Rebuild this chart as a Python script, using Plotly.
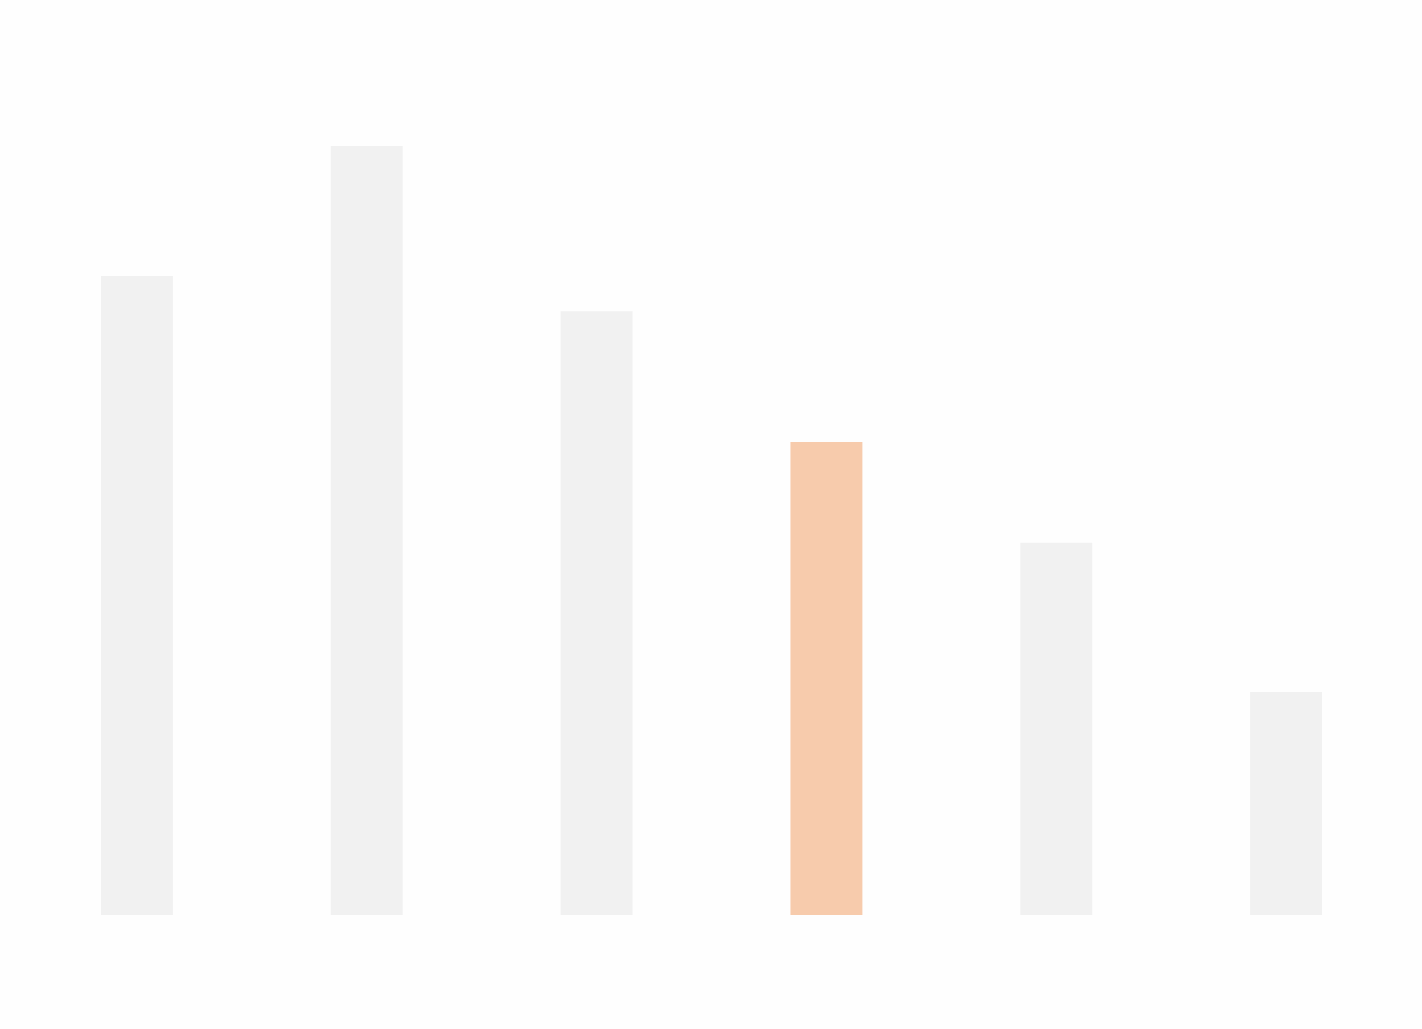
import plotly.graph_objects as go

categories = ["A", "B", "C", "D", "E", "F"]
values = [83.1, 100.0, 78.5, 61.5, 48.4, 29.0]
highlight = "D"

colors = ["#f7cbac" if c == highlight else "#f1f1f1" for c in categories]

fig = go.Figure(go.Bar(x=categories, y=values, marker_color=colors,
                       marker_line_width=0, hoverinfo="skip"))
fig.update_layout(
    width=1422, height=1029,
    margin=dict(l=22, r=21, t=146, b=114),
    paper_bgcolor="#fefefe", plot_bgcolor="#fefefe",
    bargap=0.687, showlegend=False,
)
fig.update_xaxes(visible=False, showgrid=False, zeroline=False)
fig.update_yaxes(visible=False, showgrid=False, zeroline=False, range=[0, 100])
fig.write_html("out.html", config={"displayModeBar": False})
